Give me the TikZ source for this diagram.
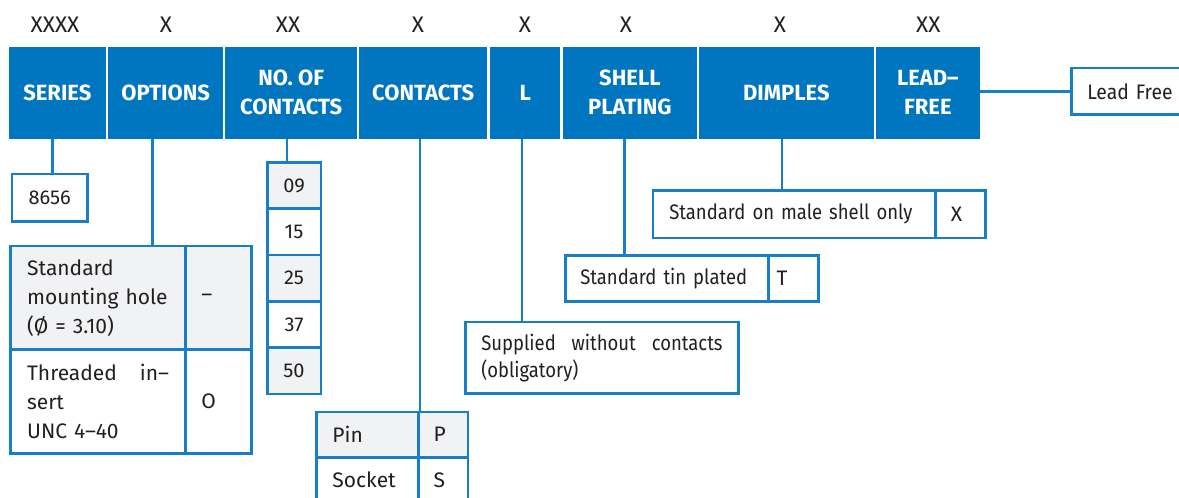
\documentclass[tikz,border=0pt]{standalone}
\usepackage{fontspec}
\setmainfont{Fira Sans}
\newfontfamily\fxa[FakeStretch=0.92]{Fira Sans}
\newfontfamily\fxb[FakeStretch=0.88]{Fira Sans}
\definecolor{hblue}{RGB}{0,118,192}
\definecolor{lblue}{RGB}{24,126,197}
\definecolor{gfill}{RGB}{241,242,243}
\definecolor{tcol}{RGB}{35,31,32}
\tikzset{
  hcell/.style={fill=hblue, draw=none, anchor=north west, inner sep=0pt,
    text=white, font=\fontsize{22}{29}\selectfont\bfseries, align=center},
  toplab/.style={text=tcol, font=\fontsize{22.5}{24}\selectfont, inner sep=0pt},
  obox/.style={draw=lblue, line width=2.6pt, anchor=north west, inner ysep=0pt,
    text=tcol, font=\fontsize{21}{29}\selectfont, align=left},
  gbox/.style={obox, fill=gfill},
  cbox/.style={draw=lblue, line width=2.6pt, anchor=north west, inner sep=0pt,
    text=tcol, font=\fontsize{20}{29}\selectfont, align=center},
  conn/.style={draw=lblue, line width=2.6pt},
}
\begin{document}
\begin{tikzpicture}[x=1pt,y=-1pt]
\useasboundingbox (0,0) rectangle (1179,498);
\clip (0,0) rectangle (1179,498);
% header cells
\node[hcell, minimum width=97.7, minimum height=91.6] (series) at (8.3,46.7) {SERIES};
\node[hcell, minimum width=115, minimum height=91.6] (options) at (108,46.7) {OPTIONS};
\node[hcell, minimum width=132, minimum height=91.6] (noc) at (225,46.7) {NO. OF\\CONTACTS};
\node[hcell, minimum width=128, minimum height=91.6] (contacts) at (359,46.7) {CONTACTS};
\node[hcell, minimum width=70, minimum height=91.6] (lcell) at (490,46.7) {L};
\node[hcell, minimum width=134, minimum height=91.6] (shell) at (562.7,46.7) {SHELL\\PLATING};
\node[hcell, minimum width=174.3, minimum height=91.6] (dimples) at (699,46.7) {DIMPLES};
\node[hcell, minimum width=104.7, minimum height=91.6] (leadfree) at (875.3,46.7) {LEAD–\\FREE};
% top labels
\node[toplab] (t1) at (55,25) {XXXX};
\node[toplab] (t2) at (166,25) {X};
\node[toplab] (t3) at (288,25) {XX};
\node[toplab] (t4) at (418,25) {X};
\node[toplab] (t5) at (525,25) {X};
\node[toplab] (t6) at (626,25) {X};
\node[toplab] (t7) at (780,25) {X};
\node[toplab] (t8) at (928.3,25) {XX};
% series
\node[cbox, minimum width=75.3, minimum height=47.3] (b8656) at (10.7,172.7) {8656};
% options table
\node[gbox, minimum width=175, minimum height=103.6, text width=142, inner xsep=16.5] (o1l) at (9.3,244.7) {Standard\\mounting hole\\(Ø = 3.10)};
\node[gbox, minimum width=65.7, minimum height=103.6, text width=34, inner xsep=15.85] (o1r) at (184.3,244.7) {–};
\node[obox, minimum width=175, minimum height=104, text width=142, inner xsep=16.5] (o2l) at (9.3,348.3) {\makebox[142pt][l]{Threaded\hfill in–}\\sert\\UNC 4–40};
\node[obox, minimum width=65.7, minimum height=104, text width=34, inner xsep=15.85] (o2r) at (184.3,348.3) {O};
% number of contacts
\node[cbox, fill=gfill, minimum width=53.5, minimum height=46.3] (n09) at (266,161) {09};
\node[cbox, minimum width=53.5, minimum height=46.3] (n15) at (266,207.3) {15};
\node[cbox, fill=gfill, minimum width=53.5, minimum height=46.3] (n25) at (266,253.6) {25};
\node[cbox, minimum width=53.5, minimum height=46.3] (n37) at (266,299.9) {37};
\node[cbox, fill=gfill, minimum width=53.5, minimum height=46.3] (n50) at (266,346.2) {50};
% contacts
\node[gbox, minimum width=102.3, minimum height=45.5, text width=70, inner xsep=16.15] (pinl) at (315,410.5) {Pin};
\node[gbox, minimum width=49.4, minimum height=45.5, text width=19.4, inner xsep=15] (pinr) at (417.3,410.5) {P};
\node[obox, minimum width=102.3, minimum height=45.5, text width=70, inner xsep=16.15] (sockl) at (315,456) {Socket};
\node[obox, minimum width=49.4, minimum height=45.5, text width=19.4, inner xsep=15] (sockr) at (417.3,456) {S};
% L
\node[obox, font=\fontsize{21}{27.5}\fxb, minimum width=273.3, minimum height=71.6, text width=241.3, inner xsep=16] (supp) at (464,320.7) {\makebox[241.3pt][l]{Supplied\hfill without\hfill contacts}\\(obligatory)};
% shell plating
\node[obox, font=\fontsize{21}{29}\fxb, minimum width=203.3, minimum height=46, text width=173.3, inner xsep=15] (tinl) at (564,254) {Standard tin plated};
\node[obox, minimum width=50, minimum height=46, text width=34, inner xsep=8] (tinr) at (767.3,254) {T};
% dimples
\node[obox, font=\fontsize{21}{29}\fxb, minimum width=282.6, minimum height=47.7, text width=250, inner xsep=16] (diml) at (651.7,189) {Standard on male shell only};
\node[obox, minimum width=49.7, minimum height=47.7, text width=19, inner xsep=15.3] (dimr) at (934.3,189) {X};
% lead free
\node[obox, font=\fontsize{21}{29}\fxa, minimum width=130, minimum height=46.6, text width=98, inner xsep=16] (leadbox) at (1070,66.7) {Lead Free};
% connectors
\draw[conn] ([xshift=-5.15pt]series.south) -- ([xshift=-5.15pt]series.south |- b8656.north);
\draw[conn] ([xshift=-13.5pt]options.south) -- ([xshift=-13.5pt]options.south |- o1l.north);
\draw[conn] ([xshift=-4.3pt]noc.south) -- ([xshift=-4.3pt]noc.south |- n09.north);
\draw[conn] (pinl.north east |- contacts.south) -- (pinl.north east);
\draw[conn] ([xshift=-3.3pt]lcell.south) -- ([xshift=-3.3pt]lcell.south |- supp.north);
\draw[conn] ([xshift=-5.4pt]shell.south) -- ([xshift=-5.4pt]shell.south |- tinl.north);
\draw[conn] ([xshift=-4.5pt]dimples.south) -- ([xshift=-4.5pt]dimples.south |- diml.north);
\draw[conn] (leadbox.west -| leadfree.east) -- (leadbox.west);
\end{tikzpicture}
\end{document}
